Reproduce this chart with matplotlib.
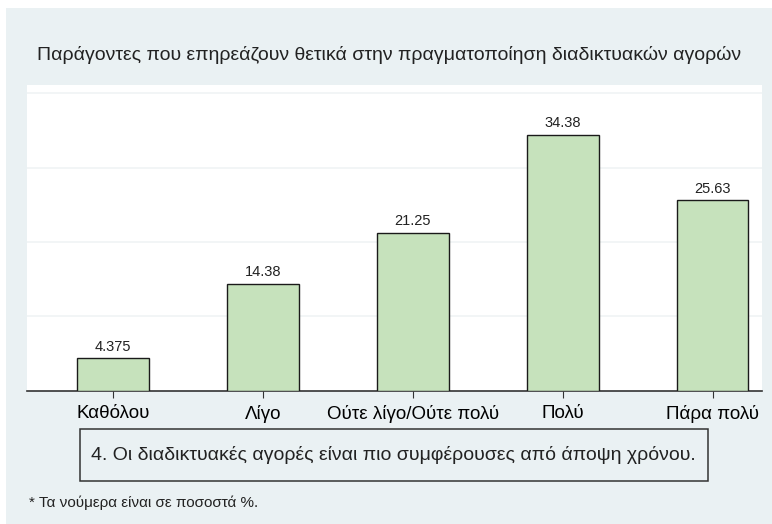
import matplotlib.pyplot as plt
from matplotlib.patches import Rectangle

# data
categories = ['Καθόλου', 'Λίγο', 'Ούτε λίγο/Ούτε πολύ', 'Πολύ', 'Πάρα πολύ']
values = [4.375, 14.38, 21.25, 34.38, 25.63]
value_labels = ['4.375', '14.38', '21.25', '34.38', '25.63']

title = 'Παράγοντες που επηρεάζουν θετικά στην πραγματοποίηση διαδικτυακών αγορών'
caption = '4. Οι διαδικτυακές αγορές είναι πιο συμφέρουσες από άποψη χρόνου.'
note = '* Τα νούμερα είναι σε ποσοστά %.'

plt.rcParams['font.family'] = ['Liberation Sans', 'DejaVu Sans']

fig = plt.figure(figsize=(7.72, 5.24), dpi=100)
fig.patch.set_facecolor('white')
# outer light background panel
fig.patches.append(Rectangle((0.008, 0.0), 0.992, 0.985, transform=fig.transFigure,
                             facecolor='#eaf1f3', edgecolor='none', zorder=-10))

ax = fig.add_axes([0.035, 0.254, 0.952, 0.584])
ax.set_facecolor('white')

x = range(len(categories))
bars = ax.bar(x, values, width=0.48, color='#c6e2bc', edgecolor='#1a1a1a', linewidth=1.0, zorder=3)

for b, lab in zip(bars, value_labels):
    ax.text(b.get_x() + b.get_width() / 2, b.get_height() + 0.6, lab,
            ha='center', va='bottom', fontsize=10.5, color='#222222')

ax.set_xlim(-0.575, 4.33)
ax.set_ylim(0, 41.1)
ax.set_yticks([10, 20, 30, 40])
ax.yaxis.grid(True, color='#f0f4f5', linewidth=1.2, zorder=0)
ax.tick_params(axis='y', left=False, labelleft=False)
ax.set_xticks(list(x))
ax.set_xticklabels(categories, fontsize=13.5)
ax.tick_params(axis='x', length=5, color='#333333', pad=5)

for s in ['top', 'right', 'left']:
    ax.spines[s].set_visible(False)
ax.spines['bottom'].set_color('#333333')
ax.spines['bottom'].set_linewidth(1.2)

fig.text(0.504, 0.895, title, ha='center', va='center', fontsize=14, color='#222222')

# caption box
fig.patches.append(Rectangle((0.1036, 0.082), 0.8135, 0.0992, transform=fig.transFigure,
                             facecolor='none', edgecolor='#333333', linewidth=1.1))
fig.text(0.510, 0.1317, caption, ha='center', va='center', fontsize=14, color='#222222')

fig.text(0.038, 0.04, note, ha='left', va='center', fontsize=11, color='#222222')

fig.savefig('out.png', dpi=100, facecolor=fig.get_facecolor())
